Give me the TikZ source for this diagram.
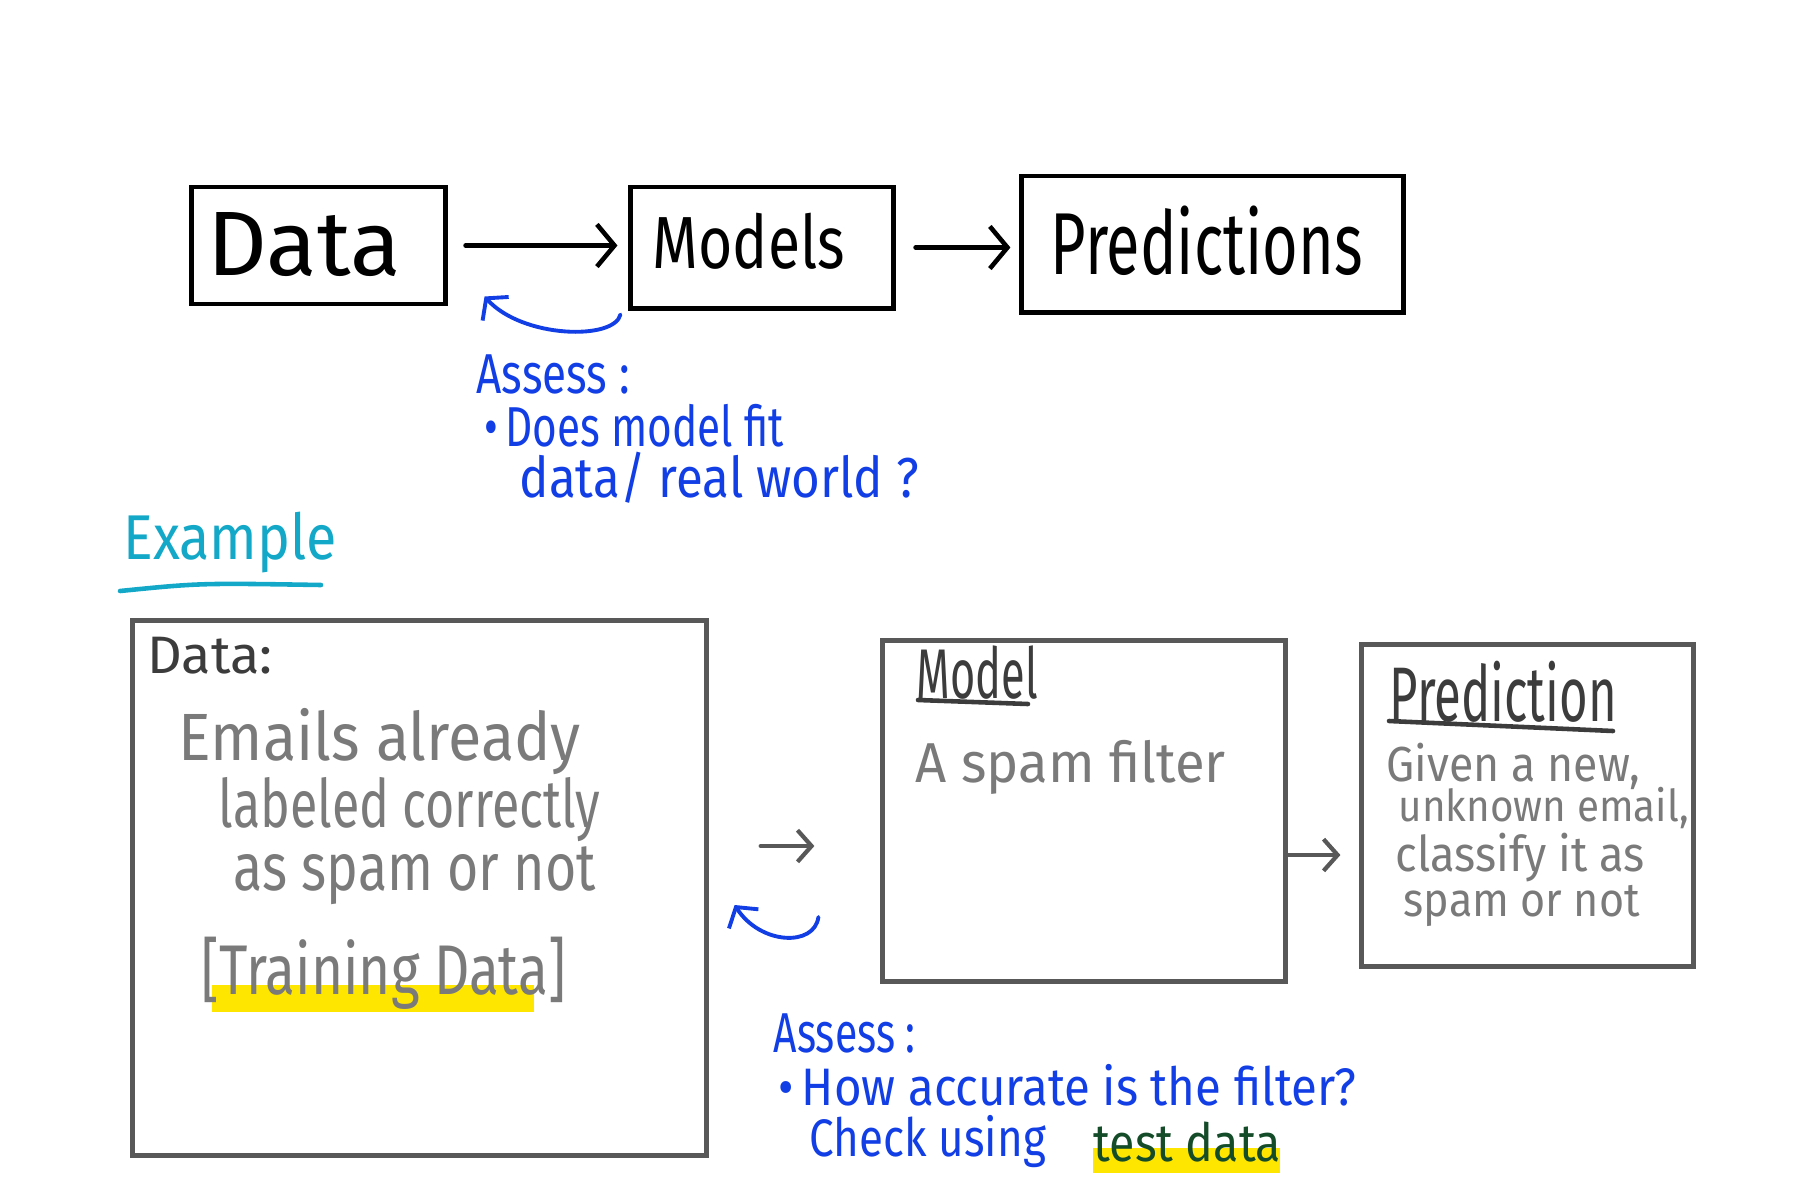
\documentclass[tikz,border=0pt]{standalone}
\usepackage{fontspec}
\setmainfont{Fira Sans}
\usepackage{graphicx}
\usetikzlibrary{arrows.meta,calc}
\definecolor{inkblue}{RGB}{18,62,230}
\definecolor{exteal}{RGB}{20,168,200}
\definecolor{boxgray}{RGB}{88,88,88}
\definecolor{txtgray}{RGB}{122,122,122}
\definecolor{titlegray}{RGB}{60,60,60}
\definecolor{hlyellow}{RGB}{255,230,0}
\definecolor{hlink}{RGB}{20,75,40}
\newcommand{\hw}[3]{\resizebox{#1}{\height}{\fontsize{#2}{#2}\selectfont #3}}
\tikzset{
  topbox/.style={draw=black, line width=1.4pt, inner sep=0pt},
  graybox/.style={draw=boxgray, line width=1.4pt, inner sep=0pt},
  txt/.style={anchor=west, inner sep=0pt},
  blackarr/.style={draw=black, line width=1.3pt, line cap=round, -{Straight Barb[length=5pt,width=12pt]}},
  bluearr/.style={draw=inkblue, line width=1.1pt, line cap=round, -{Straight Barb[length=4pt,width=10pt]}},
  grayarr/.style={draw=boxgray, line width=1.2pt, line cap=round, -{Straight Barb[length=4pt,width=9pt]}},
  uline/.style={line width=1.3pt, line cap=round},
}
\begin{document}
\begin{tikzpicture}[x=0.01cm,y=-0.01cm]
\path[use as bounding box] (0,0) rectangle (1800,1200);

% ---------- top row ----------
\node[topbox, minimum width=2.53cm, minimum height=1.17cm] (dataT) at (318.5,245.5) {};
\node[topbox, minimum width=2.62cm, minimum height=1.21cm] (modelsT) at (762,247.5) {};
\node[topbox, minimum width=3.81cm, minimum height=1.36cm] (predT) at (1212.5,244) {};

\node[txt] (dataTt) at (207,245) {\hw{1.93cm}{26pt}{Data}};
\node[txt] (modelsTt) at (652,241) {\hw{1.92cm}{21pt}{Models}};
\node[txt] (predTt) at (1050,241) {\hw{3.12cm}{25pt}{Predictions}};

\draw[blackarr, shorten <=0.18cm, shorten >=0.11cm] (dataT.east) -- (dataT.east -| modelsT.west);
\draw[blackarr, shorten <=0.2cm, shorten >=0.09cm] (modelsT.east) -- (modelsT.east -| predT.west);

\draw[bluearr] ($(modelsT.south west)+(-8,4)$) .. controls ($(modelsT.south west)+(-14,30)$) and ($(dataT.south east)+(75,32)$) .. ($(dataT.south east)+(37,-10)$);

\node[txt, text=inkblue] (assessT1) at (476,374) {\hw{1.53cm}{16pt}{Assess :}};
\node[txt, text=inkblue] (assessT2) at (484,426) {\hw{2.99cm}{16pt}{•\,Does model fit}};
\node[txt, text=inkblue] (assessT3) at (519,478) {\hw{3.99cm}{16pt}{data/ real world ?}};

% ---------- example ----------
\node[txt, text=exteal] (example) at (123,542) {\hw{2.13cm}{18pt}{Example}};
\draw[exteal, uline] (120,591) .. controls (200,583) .. (321,585);

% ---------- bottom boxes ----------
\fill[hlyellow] (212,985) rectangle (534,1012);
\fill[hlyellow] (1093,1148) rectangle (1280,1173);

\node[graybox, minimum width=5.73cm, minimum height=5.34cm] (dataB) at (419.5,888) {};
\node[graybox, minimum width=4.02cm, minimum height=3.40cm] (modelB) at (1084,811) {};
\node[graybox, minimum width=3.31cm, minimum height=3.21cm] (predB) at (1527.5,805.5) {};

\node[txt, text=titlegray] (dataBt) at (147,656) {\hw{1.25cm}{15pt}{Data:}};
\node[txt, text=txtgray] (dataB1) at (178,742) {\hw{4.02cm}{19pt}{Emails already}};
\node[txt, text=txtgray] (dataB2) at (218,810) {\hw{3.81cm}{19pt}{labeled correctly}};
\node[txt, text=txtgray] (dataB3) at (233,876) {\hw{3.62cm}{19pt}{as spam or not}};
\node[txt, text=txtgray] (dataB4) at (201,973) {\hw{3.64cm}{20pt}{[Training Data]}};

\node[txt, text=titlegray] (modelBt) at (916,673) {\hw{1.21cm}{20pt}{Model}};
\draw[titlegray, uline] (918,700) -- (1028,704);
\node[txt, text=txtgray] (modelB1) at (915,767) {\hw{3.10cm}{16pt}{A spam filter}};

\node[txt, text=titlegray] (predBt) at (1389,692) {\hw{2.27cm}{22pt}{Prediction}};
\draw[titlegray, uline] (1389,721) -- (1613,731);
\node[txt, text=txtgray] (predB1) at (1386,766) {\hw{2.53cm}{14pt}{Given a new,}};
\node[txt, text=txtgray] (predB2) at (1398,808) {\hw{2.90cm}{12.5pt}{unknown email,}};
\node[txt, text=txtgray] (predB3) at (1395,858) {\hw{2.49cm}{14pt}{classify it as}};
\node[txt, text=txtgray] (predB4) at (1403,906) {\hw{2.36cm}{13.5pt}{spam or not}};

\coordinate (g1s) at ($(dataB.east)+(0,-42)$);
\coordinate (g2s) at ($(modelB.east)+(0,44)$);
\draw[grayarr, shorten <=0.52cm, shorten >=0.66cm] (g1s) -- (g1s -| modelB.west);
\draw[grayarr, shorten <=0.01cm, shorten >=0.19cm] (g2s) -- (g2s -| predB.west);

\draw[bluearr] ($(modelB.west)+(-62,106)$) .. controls ($(modelB.west)+(-66,136)$) and ($(dataB.east)+(52,57)$) .. ($(dataB.east)+(26,17)$);

\node[txt, text=inkblue] (assessB1) at (773,1033) {\hw{1.42cm}{16pt}{Assess :}};
\node[txt, text=inkblue] (assessB2) at (778,1085) {\hw{5.77cm}{15pt}{•\,How accurate is the filter?}};
\node[txt, text=inkblue] (assessB3) at (809,1142) {\hw{2.36cm}{15pt}{Check using}};
\node[txt, text=hlink] (assessB4) at (1093,1142) {\hw{1.87cm}{15pt}{test data}};
\end{tikzpicture}
\end{document}
